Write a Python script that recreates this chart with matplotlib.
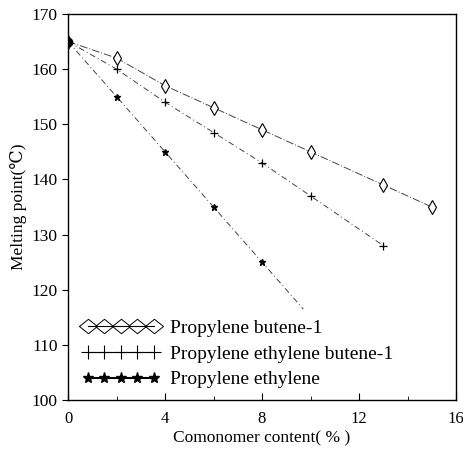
import matplotlib
matplotlib.use("Agg")
import matplotlib.pyplot as plt
from matplotlib.lines import Line2D
from matplotlib.ticker import MultipleLocator

plt.rcParams['font.family'] = ['Liberation Serif', 'DejaVu Serif']

# data
x_pb = [0, 2, 4, 6, 8, 10, 13, 15]
y_pb = [165, 162, 157, 153, 149, 145, 139, 135]

x_peb = [0, 2, 4, 6, 8, 10, 13]
y_peb = [165, 160, 154, 148.5, 143, 137, 128]

x_pe = [0, 2, 4, 6, 8, 9.7]
y_pe = [165, 155, 145, 135, 125, 116.5]

labels = ["Propylene butene-1", "Propylene ethylene butene-1", "Propylene ethylene"]

fig = plt.figure(figsize=(4.63, 4.5), dpi=100)
ax = fig.add_axes([0.147, 0.111, 0.838, 0.858])

ax.plot(x_pb, y_pb, color="#444444", lw=0.7, ls=(0, (8, 2, 1, 2)),
        marker="d", ms=7, mfc="white", mec="black", mew=0.8)
ax.plot(x_peb, y_peb, color="#444444", lw=0.7, ls=(0, (6, 3, 1, 3)),
        marker="+", ms=6, mec="black", mew=0.9)
ax.plot(x_pe, y_pe, color="#444444", lw=0.7, ls=(0, (6, 3, 1, 3)),
        marker="*", ms=5, mfc="black", mec="black", markevery=list(range(5)))
ax.plot([0], [165], marker="o", ms=6, color="black", ls="none")

ax.set_xlim(0, 16)
ax.set_ylim(100, 170)
ax.xaxis.set_major_locator(MultipleLocator(4))
ax.xaxis.set_minor_locator(MultipleLocator(2))
ax.yaxis.set_major_locator(MultipleLocator(10))
ax.tick_params(axis="x", direction="in", length=5, labelsize=12, pad=8)
ax.tick_params(axis="x", which="minor", direction="in", length=3)
ax.tick_params(axis="y", direction="out", length=4, labelsize=12.5)
for s in ax.spines.values():
    s.set_linewidth(1.0)

ax.set_xlabel("Comonomer content( % )", fontsize=12.5, labelpad=2)
ax.set_ylabel("Melting point(\u2103)", fontsize=12.5, labelpad=3)

diamond = [(-1, 0), (0, 0.8), (1, 0), (0, -0.8), (-1, 0)]
handles = [
    Line2D([], [], color="black", lw=0.8, marker=diamond, ms=13,
           mfc="none", mec="black", mew=0.7),
    Line2D([], [], color="black", lw=0.8, marker="+", ms=10, mew=0.8),
    Line2D([], [], color="black", lw=1.5, marker="*", ms=8),
]
ax.legend(handles, labels, loc="lower left", bbox_to_anchor=(0.0, -0.005),
          numpoints=5, handlelength=4.0, handletextpad=0.55, labelspacing=0.42,
          frameon=False, fontsize=14, borderaxespad=0.3)

fig.savefig("out.png", dpi=100, facecolor="white")
